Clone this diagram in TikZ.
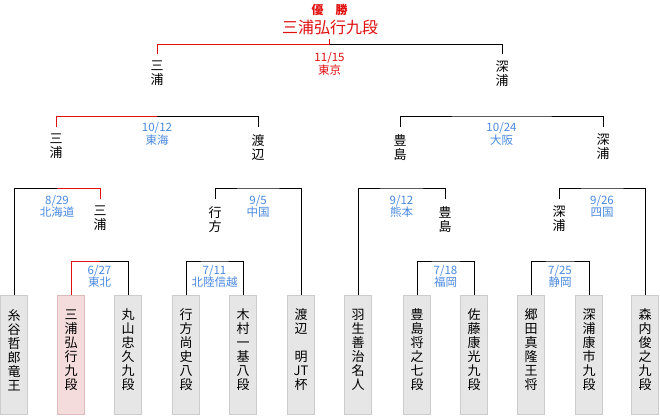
\documentclass[tikz,border=0pt]{standalone}
\usepackage{fontspec}
\newfontfamily\jp{Noto Sans CJK JP}
\definecolor{wred}{HTML}{E01010}
\definecolor{lblue}{HTML}{4A8AE0}
\definecolor{bfill}{HTML}{E6E6E6}
\definecolor{bdraw}{HTML}{CCCCCC}
\definecolor{pfill}{HTML}{F4DCDC}
\definecolor{pdraw}{HTML}{DDBBBB}
\begin{document}
\begin{tikzpicture}[x=1pt,y=-1pt,
 conn/.style={line width=1pt, black},
 wconn/.style={line width=1pt, wred},
 player/.style={draw=bdraw, fill=bfill, line width=1pt, minimum width=27pt, minimum height=119pt, inner sep=0pt, anchor=north},
 champbox/.style={player, draw=pdraw, fill=pfill},
 ptext/.style={font=\jp\fontsize{13}{14}\selectfont, align=center, inner sep=0pt},
 wname/.style={font=\jp\fontsize{13}{14}\selectfont, align=center, inner xsep=0pt, inner ysep=7pt, anchor=north},
 lbl/.style={font=\jp\fontsize{11.5}{12.5}\selectfont, text=lblue, align=center, inner sep=0pt},
]
\useasboundingbox[fill=white] (0,0) rectangle (660,415);

% title
\node[font=\jp\bfseries\fontsize{12}{12}\selectfont, text=wred, inner sep=0pt] (yusho) at (329.5,10) {優　勝};
\node[font=\jp\fontsize{16}{16}\selectfont, text=wred, inner sep=0pt] (winner) at (330,27) {三浦弘行九段};

% players
\node[player] (b1) at (14,295) {};
\node[champbox] (b2) at (71,295) {};
\node[player] (b3) at (128,295) {};
\node[player] (b4) at (186,295) {};
\node[player] (b5) at (243,295) {};
\node[player] (b6) at (301,295) {};
\node[player] (b7) at (358,295) {};
\node[player] (b8) at (417,295) {};
\node[player] (b9) at (474,295) {};
\node[player] (b10) at (531,295) {};
\node[player] (b11) at (589,295) {};
\node[player] (b12) at (645,295) {};

\node[ptext] (p1) at ([yshift=-55pt]b1.north) {糸\\谷\\哲\\郎\\竜\\王};
\node[ptext] (p2) at ([yshift=-55pt]b2.north) {三\\浦\\弘\\行\\九\\段};
\node[ptext] (p3) at ([yshift=-55pt]b3.north) {丸\\山\\忠\\久\\九\\段};
\node[ptext] (p4) at ([yshift=-55pt]b4.north) {行\\方\\尚\\史\\八\\段};
\node[ptext] (p5) at ([yshift=-55pt]b5.north) {木\\村\\一\\基\\八\\段};
\node[ptext] (p6) at ([yshift=-55pt]b6.north) {渡\\辺\\\phantom{明}\\明\\JT\\杯};
\node[ptext] (p7) at ([yshift=-55pt]b7.north) {羽\\生\\善\\治\\名\\人};
\node[ptext] (p8) at ([yshift=-55pt]b8.north) {豊\\島\\将\\之\\七\\段};
\node[ptext] (p9) at ([yshift=-55pt]b9.north) {佐\\藤\\康\\光\\九\\段};
\node[ptext] (p10) at ([yshift=-55pt]b10.north) {郷\\田\\真\\隆\\王\\将};
\node[ptext] (p11) at ([yshift=-55pt]b11.north) {深\\浦\\康\\市\\九\\段};
\node[ptext] (p12) at ([yshift=-55pt]b12.north) {森\\内\\俊\\之\\九\\段};

% round 1
\coordinate (R1) at (99.5,261);
\coordinate (R2) at (214.5,261);
\coordinate (R3) at (445.5,261);
\coordinate (R4) at (560,261);
\draw[wconn] (b2.north) |- (R1);
\draw[conn] (R1) -| (b3.north);
\draw[conn] (b4.north) |- (R2) -| (b5.north);
\draw[conn] (b8.north) |- (R3) -| (b9.north);
\draw[conn] (b10.north) |- (R4) -| (b11.north);
\node[lbl] (l1) at (99.5,276.5) {6/27\\東北};
\node[lbl] (l2) at (214.5,276.5) {7/11\\北陸信越};
\node[lbl] (l3) at (445.5,276.5) {7/18\\福岡};
\node[lbl] (l4) at (560,276.5) {7/25\\静岡};

% round 2
\node[wname] (q1w) at (100,199) {三\\浦};
\node[wname] (q2w) at (215,199) {行\\方};
\node[wname] (q3w) at (445,199) {豊\\島};
\node[wname] (q4w) at (559,199) {深\\浦};
\coordinate (Q1) at (57,188);
\coordinate (Q2) at (258,188);
\coordinate (Q3) at (401.5,188);
\coordinate (Q4) at (602,188);
\draw[conn] (b1.north) |- (Q1);
\draw[wconn] (Q1) -| (q1w.north);
\draw[conn] (q2w.north) |- (Q2) -| (b6.north);
\draw[conn] (b7.north) |- (Q3) -| (q3w.north);
\draw[conn] (q4w.north) |- (Q4) -| (b12.north);
\node[lbl] (l5) at (57,206.5) {8/29\\北海道};
\node[lbl] (l6) at (258,206.5) {9/5\\中国};
\node[lbl] (l7) at (401.5,206.5) {9/12\\熊本};
\node[lbl] (l8) at (602,206.5) {9/26\\四国};

% semifinals
\node[wname] (s1l) at (56,127) {三\\浦};
\node[wname] (s1r) at (258,127) {渡\\辺};
\node[wname] (s2l) at (400,127) {豊\\島};
\node[wname] (s2r) at (603,127) {深\\浦};
\coordinate (S1) at (157,116);
\coordinate (S2) at (501.5,116);
\draw[wconn] (s1l.north) |- (S1);
\draw[conn] (S1) -| (s1r.north);
\draw[conn] (s2l.north) |- (S2) -| (s2r.north);
\node[lbl] (l9) at (157,134) {10/12\\東海};
\node[lbl] (l10) at (501.5,134) {10/24\\大阪};

% final
\node[wname] (fl) at (157,54) {三\\浦};
\node[wname] (fr) at (502,54) {深\\浦};
\coordinate (F) at (329.5,44);
\coordinate (Ftop) at (329.5,39);
\draw[wconn] (fl.north) |- (F) -- (Ftop);
\draw[conn] (F) -| (fr.north);
\node[lbl, text=wred] (l11) at (329.5,64) {11/15\\東京};
\end{tikzpicture}
\end{document}
